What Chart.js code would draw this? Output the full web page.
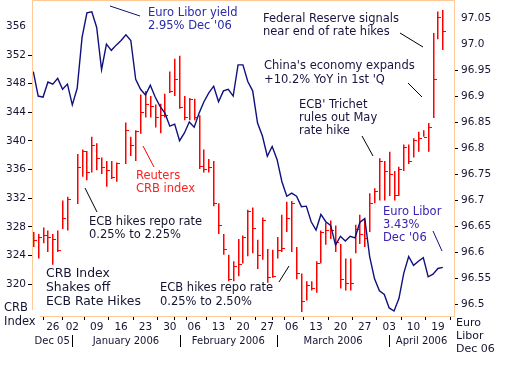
<!DOCTYPE html>
<html><head><meta charset="utf-8">
<script src="https://cdn.jsdelivr.net/npm/chart.js@4.4.1/dist/chart.umd.min.js"></script>
<style>html,body{margin:0;padding:0;background:#fff;}canvas{display:block}</style>
</head><body>
<canvas id="c" width="520" height="365"></canvas>
<script>
// ---------------- data ----------------
// trading-day index along the x axis (0 = first bar on the chart)
const DAYS = Array.from({length: 85}, (_, i) => i);
const CRB_HIGH = [327.3,327.0,327.9,327.5,327.0,327.5,331.7,332.2,null,338.2,
  338.8,338.6,340.6,339.7,337.7,337.2,337.2,337.0,null,342.6,
  340.6,341.5,346.5,347.0,346.3,345.1,345.2,346.6,349.7,351.5,
  351.9,346.3,346.0,345.9,343.6,338.8,337.5,337.2,331.3,327.0,
  324.1,323.2,326.3,326.8,330.4,330.7,326.2,329.3,324.9,324.8,
  326.6,329.7,331.5,331.6,325.2,321.5,320.4,320.4,323.2,327.5,
  328.6,328.9,328.2,325.6,323.6,323.6,328.3,329.7,329.0,332.7,
  333.4,337.6,337.2,338.5,335.8,336.4,339.5,339.5,340.4,341.3,
  341.5,342.5,355.1,358.1,358.3];
const CRB_LOW = [325.2,323.6,325.7,324.5,322.7,324.5,327.7,327.5,null,331.2,
  335.0,334.5,335.6,335.9,335.4,333.6,334.7,334.3,null,336.8,
  337.9,337.2,341.0,343.3,343.3,341.9,341.1,343.3,346.7,346.3,
  344.5,342.9,342.9,342.9,336.1,335.6,335.6,330.9,327.0,324.1,
  320.4,320.4,321.1,322.9,323.9,324.3,322.1,323.4,320.2,320.9,
  323.6,324.5,327.3,324.5,320.7,316.1,317.7,319.1,318.8,322.9,
  325.5,326.3,324.5,319.4,319.1,319.1,324.3,325.6,325.2,327.3,
  331.3,331.7,331.7,332.3,331.7,332.3,335.8,336.8,337.7,338.5,
  340.6,338.5,343.2,354.2,352.7];
const CRB_CLOSE = [326.1,326.6,326.8,326.6,326.3,324.8,329.3,331.9,null,336.3,
  338.6,335.6,339.5,337.6,336.3,335.9,335.0,336.9,null,341.5,
  339.5,341.4,344.0,345.2,344.9,343.3,343.6,343.6,347.0,348.7,
  344.8,343.3,345.9,343.3,336.5,336.1,336.4,331.3,328.2,324.9,
  320.7,322.6,322.8,326.6,330.2,327.9,324.1,328.9,321.0,321.1,
  324.8,325.1,329.3,331.3,321.5,317.7,319.9,319.5,322.9,327.3,
  327.5,327.5,325.9,320.7,320.2,320.2,327.7,327.0,326.4,331.3,
  333.0,337.2,335.8,335.4,332.4,336.1,339.2,337.2,340.2,340.4,
  340.6,341.9,348.6,357.3,355.4];
const LIBOR_DEC06 = [96.948,96.901,96.899,96.928,96.924,96.935,96.914,96.924,96.884,96.916,
  97.014,97.061,97.063,97.033,96.952,97.001,96.989,96.999,97.008,97.019,
  97.008,96.933,96.914,96.903,96.922,96.899,96.881,96.868,96.843,96.847,
  96.815,96.830,96.851,96.841,96.868,96.890,96.907,96.920,96.890,96.911,
  96.914,96.901,96.961,96.961,96.929,96.911,96.849,96.824,96.785,96.804,
  96.779,96.736,96.708,96.714,96.708,96.688,96.689,96.659,96.643,96.673,
  96.659,96.652,96.614,96.631,96.622,96.631,96.628,96.658,96.665,96.592,
  96.549,96.526,96.519,96.493,96.487,96.511,96.560,96.592,96.575,96.583,
  96.590,96.553,96.558,96.569,96.571];
const X_TICK_INDEX = [4,8,13,18,23,28,33,38,43,48,53,58,63,68,73,78,83];
const X_TICK_LABELS = ['26','02','09','16','23','30','06','13','20','27','06','13','20','27','03','10','19'];
const MONTH_START_INDEX = [8,30,50,73];
const MONTH_LABELS = ['Dec 05','January 2006','February 2006','March 2006','April 2006'];
const CRB_TICKS = [320,324,328,332,336,340,344,348,352,356];
const LIBOR_TICKS = [96.5,96.55,96.6,96.65,96.7,96.75,96.8,96.85,96.9,96.95,97.0,97.05];
const LIBOR_TICK_LABELS = ['96.5','96.55','96.6','96.65','96.7','96.75','96.8','96.85','96.9','96.95','97.0','97.05'];

// ---------------- styling ----------------
const FONT = 'DejaVu Sans';
const FRAME = '#ffc894';
const RED = '#ff0000';
const NAVY = '#10107e';
const TXT = '#141432';

const annotations = [
  {lines:['Euro Libor yield',"2.95% Dec '06"], x:148, y:13, dy:12.6, color:'#2a2aa6', size:11.5},
  {lines:['Federal Reserve signals','near end of rate hikes'], x:263, y:19, dy:13.3, color:'#1c1240', size:11.5},
  {lines:["China's economy expands","+10.2% YoY in 1st 'Q"], x:264, y:66, dy:14, color:'#1c1240', size:11.5},
  {lines:["ECB' Trichet",'rules out May','rate hike'], x:299, y:105, dy:13, color:'#1c1240', size:11.5},
  {lines:['Reuters','CRB index'], x:136, y:176, dy:13.3, color:'#ff2020', size:11.5},
  {lines:['ECB hikes repo rate','0.25% to 2.25%'], x:89, y:222, dy:13.5, color:TXT, size:11.5},
  {lines:['CRB Index','Shakes off','ECB Rate Hikes'], x:46, y:274, dy:13.9, color:TXT, size:12.4},
  {lines:['ECB hikes repo rate','0.25% to 2.50%'], x:160, y:288, dy:14, color:TXT, size:11.5},
  {lines:['Euro Libor','3.43%',"Dec '06"], x:383, y:212, dy:13, color:'#3a22b0', size:11.5},
  {lines:['CRB','Index'], x:4, y:308, dy:14, color:'#141432', size:11.5},
  {lines:['Euro','Libor','Dec 06'], x:456, y:323, dy:13, color:'#141432', size:11}
];
const pointers = [
  {x1:110,y1:6,x2:140,y2:16,color:NAVY},
  {x1:400,y1:33,x2:423,y2:47,color:'#000'},
  {x1:408,y1:83,x2:422,y2:97,color:'#000'},
  {x1:362,y1:136,x2:373,y2:156,color:'#000'},
  {x1:143,y1:146,x2:154,y2:167,color:RED},
  {x1:85,y1:188,x2:97,y2:212,color:'#000'},
  {x1:289,y1:266,x2:279,y2:282,color:'#000'},
  {x1:433,y1:231,x2:442,y2:251,color:NAVY}
];

const X_TICKS_ALL = X_TICK_INDEX.concat(MONTH_START_INDEX.filter(v => X_TICK_INDEX.indexOf(v) < 0)).sort((a,b)=>a-b);
const BAR_W = 1.5;

const crispBars = {
  id: 'crispBars',
  beforeDatasetDraw(chart, args) {
    const meta = args.meta;
    if (meta.type !== 'bar') return;
    meta.data.forEach(el => { el.x = Math.floor(el.x) + BAR_W / 2; });
  },
  afterDatasetDraw(chart, args) {
    const meta = args.meta;
    if (meta.type !== 'bar') return;
    const ctx = chart.ctx, ys = chart.scales.y;
    ctx.save();
    ctx.fillStyle = RED;
    meta.data.forEach((el, k) => {
      const raw = chart.data.datasets[args.index].data[k];
      if (!raw || raw.close == null) return;
      const yc = Math.round(ys.getPixelForValue(raw.close));
      ctx.fillRect(Math.floor(el.x) + 1, yc, 3, 1);
    });
    ctx.restore();
  }
};

const decor = {
  id: 'decor',
  beforeDraw(chart) {
    const ctx = chart.ctx;
    ctx.save();
    ctx.fillStyle = '#fff';
    ctx.fillRect(0, 0, chart.width, chart.height);
    ctx.restore();
  },
  afterDraw(chart) {
    const ctx = chart.ctx, a = chart.chartArea, xs = chart.scales.x;
    ctx.save();
    // frame
    ctx.strokeStyle = FRAME; ctx.lineWidth = 1;
    ctx.beginPath();
    ctx.moveTo(a.left + 0.5, a.bottom - 6); ctx.lineTo(a.left + 0.5, 0.5);
    ctx.lineTo(a.right + 0.5, 0.5); ctx.lineTo(a.right + 0.5, a.bottom + 0.5);
    ctx.lineTo(a.left + 8, a.bottom + 0.5);
    ctx.stroke();
    // month separators and labels
    ctx.strokeStyle = '#000';
    const bounds = [xs.min].concat(MONTH_START_INDEX, [xs.max]);
    MONTH_START_INDEX.forEach(v => {
      const px = Math.round(xs.getPixelForValue(v)) + 0.5;
      ctx.beginPath(); ctx.moveTo(px, 335); ctx.lineTo(px, 347); ctx.stroke();
    });
    ctx.fillStyle = TXT; ctx.font = '10px "' + FONT + '"';
    ctx.textAlign = 'center'; ctx.textBaseline = 'middle';
    MONTH_LABELS.forEach((t, k) => {
      const c = (xs.getPixelForValue(bounds[k]) + xs.getPixelForValue(bounds[k + 1])) / 2;
      ctx.fillText(t, c, 341.5);
    });
    // pointer lines
    pointers.forEach(p => {
      ctx.strokeStyle = p.color; ctx.lineWidth = 1;
      ctx.beginPath(); ctx.moveTo(p.x1, p.y1); ctx.lineTo(p.x2, p.y2); ctx.stroke();
    });
    // annotation text
    ctx.textAlign = 'left'; ctx.textBaseline = 'middle';
    annotations.forEach(an => {
      ctx.fillStyle = an.color; ctx.font = an.size + 'px "' + FONT + '"';
      an.lines.forEach((t, k) => ctx.fillText(t, an.x, an.y + k * an.dy));
    });
    ctx.restore();
  }
};

const barData = [];
DAYS.forEach((d, i) => {
  if (CRB_HIGH[i] == null) return;
  barData.push({x: d, y: [CRB_LOW[i], CRB_HIGH[i]], close: CRB_CLOSE[i]});
});

new Chart(document.getElementById('c').getContext('2d'), {
  data: {
    datasets: [
      {
        type: 'line', label: 'Euro Libor Dec 06', yAxisID: 'y1', xAxisID: 'x',
        data: DAYS.map((d, i) => ({x: d, y: LIBOR_DEC06[i]})),
        borderColor: NAVY, borderWidth: 1.4, pointRadius: 0, tension: 0, fill: false, order: 0
      },
      {
        type: 'bar', label: 'Reuters CRB index', yAxisID: 'y', xAxisID: 'x',
        data: barData, backgroundColor: RED, borderWidth: 0, barThickness: BAR_W,
        inflateAmount: 0, grouped: false, order: 1
      }
    ]
  },
  options: {
    responsive: false, animation: false, devicePixelRatio: 1,
    layout: {padding: {top: 1, left: 0, right: 0, bottom: 0}},
    plugins: {legend: {display: false}, tooltip: {enabled: false}},
    scales: {
      x: {
        type: 'linear', position: 'bottom', min: -0.27, max: 86.3, offset: false,
        afterBuildTicks: s => { s.ticks = X_TICKS_ALL.map(v => ({value: v})); },
        afterFit: s => { s.height = 49; },
        ticks: {autoSkip: false, maxRotation: 0, minRotation: 0, padding: 1, color: TXT,
          font: {family: FONT, size: 10.5},
          callback: v => { const k = X_TICK_INDEX.indexOf(v); return k >= 0 ? X_TICK_LABELS[k] : ''; }},
        grid: {drawOnChartArea: false, drawTicks: true, tickLength: 4, color: '#000'},
        border: {display: false}
      },
      y: {
        type: 'linear', position: 'left', min: 315.55, max: 358.4,
        afterBuildTicks: s => { s.ticks = CRB_TICKS.map(v => ({value: v})); },
        afterFit: s => { s.width = 32; },
        ticks: {padding: 2, color: TXT, font: {family: FONT, size: 10.5}, callback: v => String(v)},
        grid: {drawOnChartArea: false, drawTicks: true, tickLength: 4,
          color: c => (c.tick && c.tick.value === 356) ? 'rgba(0,0,0,0)' : '#000'},
        border: {display: false}
      },
      y1: {
        type: 'linear', position: 'right', min: 96.4775, max: 97.068,
        afterBuildTicks: s => { s.ticks = LIBOR_TICKS.map(v => ({value: v})); },
        afterFit: s => { s.width = 66; },
        ticks: {padding: 3, color: TXT, font: {family: FONT, size: 10.5},
          callback: (v, i) => LIBOR_TICK_LABELS[i]},
        grid: {drawOnChartArea: false, drawTicks: true, tickLength: 4,
          color: c => (c.tick && c.tick.value > 96.97) ? 'rgba(0,0,0,0)' : '#000'},
        border: {display: false}
      }
    }
  },
  plugins: [crispBars, decor]
});
</script>
</body></html>
